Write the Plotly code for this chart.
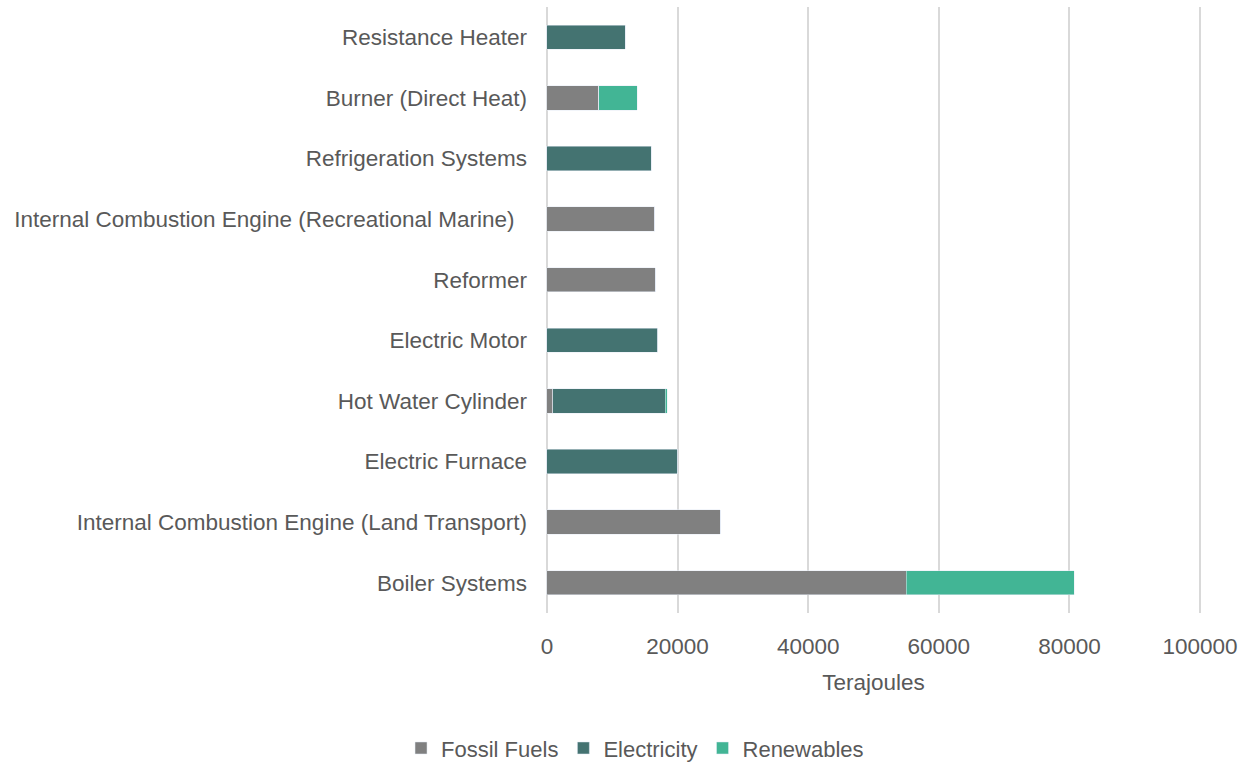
import plotly.graph_objects as go

# categories listed bottom to top, as plotly draws horizontal bars
categories = [
    "Boiler Systems",
    "Internal Combustion Engine (Land Transport)",
    "Electric Furnace",
    "Hot Water Cylinder",
    "Electric Motor",
    "Reformer",
    "Internal Combustion Engine (Recreational Marine)\u00a0\u00a0",
    "Refrigeration Systems",
    "Burner (Direct Heat)",
    "Resistance Heater",
]

fossil_fuels = [55000, 26500, 0, 900, 0, 16600, 16500, 0, 7900, 0]
electricity = [0, 0, 20000, 17200, 17000, 0, 0, 16000, 0, 12000]
renewables = [25700, 0, 0, 350, 0, 0, 0, 0, 5900, 0]

x_ticks = [0, 20000, 40000, 60000, 80000, 100000]

text_color = "#595959"
grid_color = "#D9D9D9"
font_family = "Liberation Sans, Arial, sans-serif"

fig = go.Figure()
fig.add_trace(go.Bar(y=categories, x=fossil_fuels, name="Fossil Fuels",
                     orientation="h", marker_color="#808080"))
fig.add_trace(go.Bar(y=categories, x=electricity, name="Electricity",
                     orientation="h", marker_color="#447371"))
fig.add_trace(go.Bar(y=categories, x=renewables, name="Renewables",
                     orientation="h", marker_color="#42B595"))

fig.update_layout(
    barmode="stack",
    bargap=0.6,
    width=1255,
    height=765,
    margin=dict(l=545, r=53, t=7, b=152),
    plot_bgcolor="white",
    paper_bgcolor="white",
    font=dict(family=font_family, size=22.5, color=text_color),
    legend=dict(orientation="h", xref="container", yref="container",
                x=0.506, y=0.022, xanchor="center", yanchor="middle",
                font=dict(size=22), traceorder="normal"),
)

fig.update_xaxes(
    range=[-300, 100300],
    tickvals=x_ticks,
    ticktext=[str(v) for v in x_ticks],
    showgrid=True,
    gridcolor=grid_color,
    gridwidth=2,
    zeroline=True,
    zerolinecolor=grid_color,
    zerolinewidth=2,
    showline=False,
    ticklabelstandoff=17,
    title=dict(text="Terajoules", standoff=16, font=dict(size=22.5)),
)
fig.update_yaxes(
    showgrid=False,
    showline=False,
    ticks="",
    ticklabelstandoff=17,
    automargin=False,
)

# drop the page's default body margin so the figure sits at the window corner
fig.write_html("out.html", config={"displayModeBar": False},
               post_script="document.body.style.margin='0';")
